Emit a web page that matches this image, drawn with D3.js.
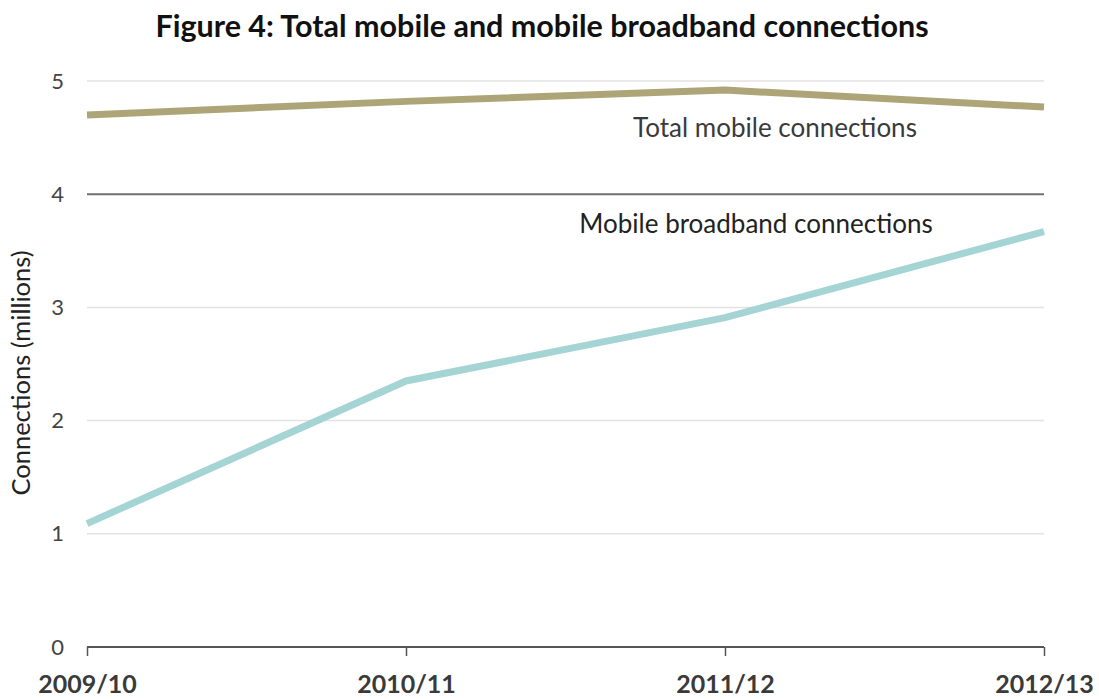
<!DOCTYPE html>
<html>
<head>
<meta charset="utf-8">
<script src="https://cdn.jsdelivr.net/npm/d3@7"></script>
<style>
  html, body { margin: 0; padding: 0; background: #fff; }
  svg { display: block; }
</style>
</head>
<body>
<svg id="chart" width="1099" height="699"></svg>
<script>
// Financial years on the x axis
const years = ["2009/10", "2010/11", "2011/12", "2012/13"];
// Connections, millions
const totalMobile = [4.70, 4.82, 4.92, 4.77];
const mobileBroadband = [1.09, 2.35, 2.91, 3.67];
const yTicks = [0, 1, 2, 3, 4, 5];

const svg = d3.select("#chart");
const font = "Lato, 'Open Sans', sans-serif";

const x = d3.scalePoint().domain(years).range([87, 1044]);
const y = d3.scaleLinear().domain([0, 5]).range([647, 81]);

// Title
svg.append("text")
  .attr("x", 542).attr("y", 37)
  .attr("text-anchor", "middle")
  .attr("font-family", font)
  .attr("font-weight", "bold")
  .attr("font-size", 30.5)
  .attr("fill", "#111")
  .text("Figure 4: Total mobile and mobile broadband connections");

// Horizontal gridlines
const grid = svg.append("g");
grid.selectAll("line")
  .data(yTicks.filter(d => d > 0))
  .join("line")
  .attr("x1", x.range()[0]).attr("x2", x.range()[1])
  .attr("y1", d => y(d)).attr("y2", d => y(d))
  .attr("stroke", d => d === 4 ? "#707070" : "#e2e2e2")
  .attr("stroke-width", d => d === 4 ? 2 : 1.5);

// Y axis labels
const yAxis = d3.axisLeft(y).tickValues(yTicks).tickSize(0).tickPadding(0).tickFormat(d3.format("d"));
svg.append("g")
  .attr("transform", "translate(64,0)")
  .call(yAxis)
  .call(g => g.select(".domain").remove())
  .call(g => g.selectAll("text")
    .attr("font-family", font)
    .attr("font-size", 22)
    .attr("fill", "#444"));

// X axis
const xAxis = d3.axisBottom(x).tickSize(9).tickPadding(19);
svg.append("g")
  .attr("transform", `translate(0,${y(0)})`)
  .call(xAxis)
  .call(g => g.select(".domain")
    .attr("d", `M${x.range()[0]},0H${x.range()[1]}`)
    .attr("stroke", "#555").attr("stroke-width", 2))
  .call(g => g.selectAll(".tick line").attr("stroke", "#555").attr("stroke-width", 1.5))
  .call(g => g.selectAll("text")
    .attr("font-family", font)
    .attr("font-weight", "bold")
    .attr("font-size", 25)
    .attr("fill", "#3a3a3a"));

// Y axis title
svg.append("text")
  .attr("transform", "translate(30,373) rotate(-90)")
  .attr("text-anchor", "middle")
  .attr("font-family", font)
  .attr("font-size", 25.5)
  .attr("fill", "#222")
  .text("Connections (millions)");

// Series lines
const line = d3.line().x((d, i) => x(years[i])).y(d => y(d));

svg.append("path")
  .datum(totalMobile)
  .attr("d", line)
  .attr("fill", "none")
  .attr("stroke", "#ada577")
  .attr("stroke-width", 7);

svg.append("path")
  .datum(mobileBroadband)
  .attr("d", line)
  .attr("fill", "none")
  .attr("stroke", "#a5d4d4")
  .attr("stroke-width", 7);

// Series labels
svg.append("text")
  .attr("x", 775).attr("y", 137)
  .attr("text-anchor", "middle")
  .attr("font-family", font)
  .attr("font-size", 26)
  .attr("fill", "#3a3a3a")
  .text("Total mobile connections");

svg.append("text")
  .attr("x", 756).attr("y", 233)
  .attr("text-anchor", "middle")
  .attr("font-family", font)
  .attr("font-size", 26)
  .attr("fill", "#222")
  .text("Mobile broadband connections");
</script>
</body>
</html>
